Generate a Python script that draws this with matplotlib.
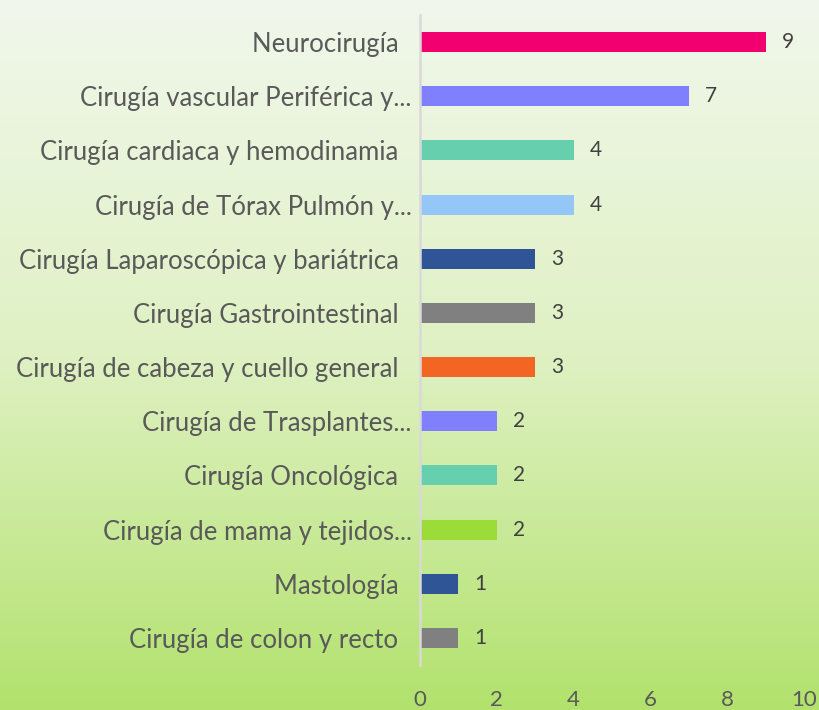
import numpy as np
import matplotlib.pyplot as plt
from matplotlib.colors import LinearSegmentedColormap

categorias = ['Neurocirugía', 'Cirugía vascular Periférica y...', 'Cirugía cardiaca y hemodinamia',
              'Cirugía de Tórax Pulmón y...', 'Cirugía Laparoscópica y bariátrica', 'Cirugía Gastrointestinal',
              'Cirugía de cabeza y cuello general', 'Cirugía de Trasplantes...', 'Cirugía Oncológica',
              'Cirugía de mama y tejidos...', 'Mastología', 'Cirugía de colon y recto']
valores = [9, 7, 4, 4, 3, 3, 3, 2, 2, 2, 1, 1]
colores = ['#f20070', '#8080ff', '#66cfae', '#94c6f8', '#2f5597', '#808080',
           '#f26522', '#8080ff', '#66cfae', '#9cdc38', '#2f5597', '#808080']
xticks = [0, 2, 4, 6, 8, 10]

plt.rcParams['font.family'] = ['Lato', 'DejaVu Sans']

fig = plt.figure(figsize=(8.2, 7.1), dpi=100)

# fondo degradado vertical
bg = fig.add_axes([0, 0, 1, 1], zorder=-1)
cmap = LinearSegmentedColormap.from_list('fondo', ['#f1f7ec', '#dff1c3', '#b2e26d'])
bg.imshow(np.linspace(0, 1, 256).reshape(-1, 1), aspect='auto', cmap=cmap, extent=[0, 1, 0, 1])
bg.axis('off')

ax = fig.add_axes([420 / 820, 45 / 710, 384 / 820, 650 / 710])
ax.patch.set_alpha(0)
y = np.arange(len(categorias))
ax.barh(y, valores, height=0.37, color=colores, zorder=2)
for yi, v in zip(y, valores):
    ax.text(v + 0.57, yi, str(v), va='center', ha='center', fontsize=15, color='#404040')

# etiquetas truncadas ("...") sobresalen hacia el eje, las demás llevan espacio final
etiquetas = [c if c.endswith('...') else c + '  ' for c in categorias]

ax.set_xlim(0, 10)
ax.set_ylim(len(categorias) - 0.5, -0.5)
ax.set_yticks(y)
ax.set_yticklabels(etiquetas, fontsize=18.5, color='#595959')
ax.set_xticks(xticks)
ax.set_xticklabels([str(t) for t in xticks], fontsize=16, color='#595959')
ax.tick_params(length=0)
ax.tick_params(axis='y', pad=6)
ax.tick_params(axis='x', pad=18)
for s in ['top', 'right', 'bottom']:
    ax.spines[s].set_visible(False)
ax.spines['left'].set_color('#d9d9d9')
ax.spines['left'].set_linewidth(1.8)

fig.savefig('out.png', dpi=100)
